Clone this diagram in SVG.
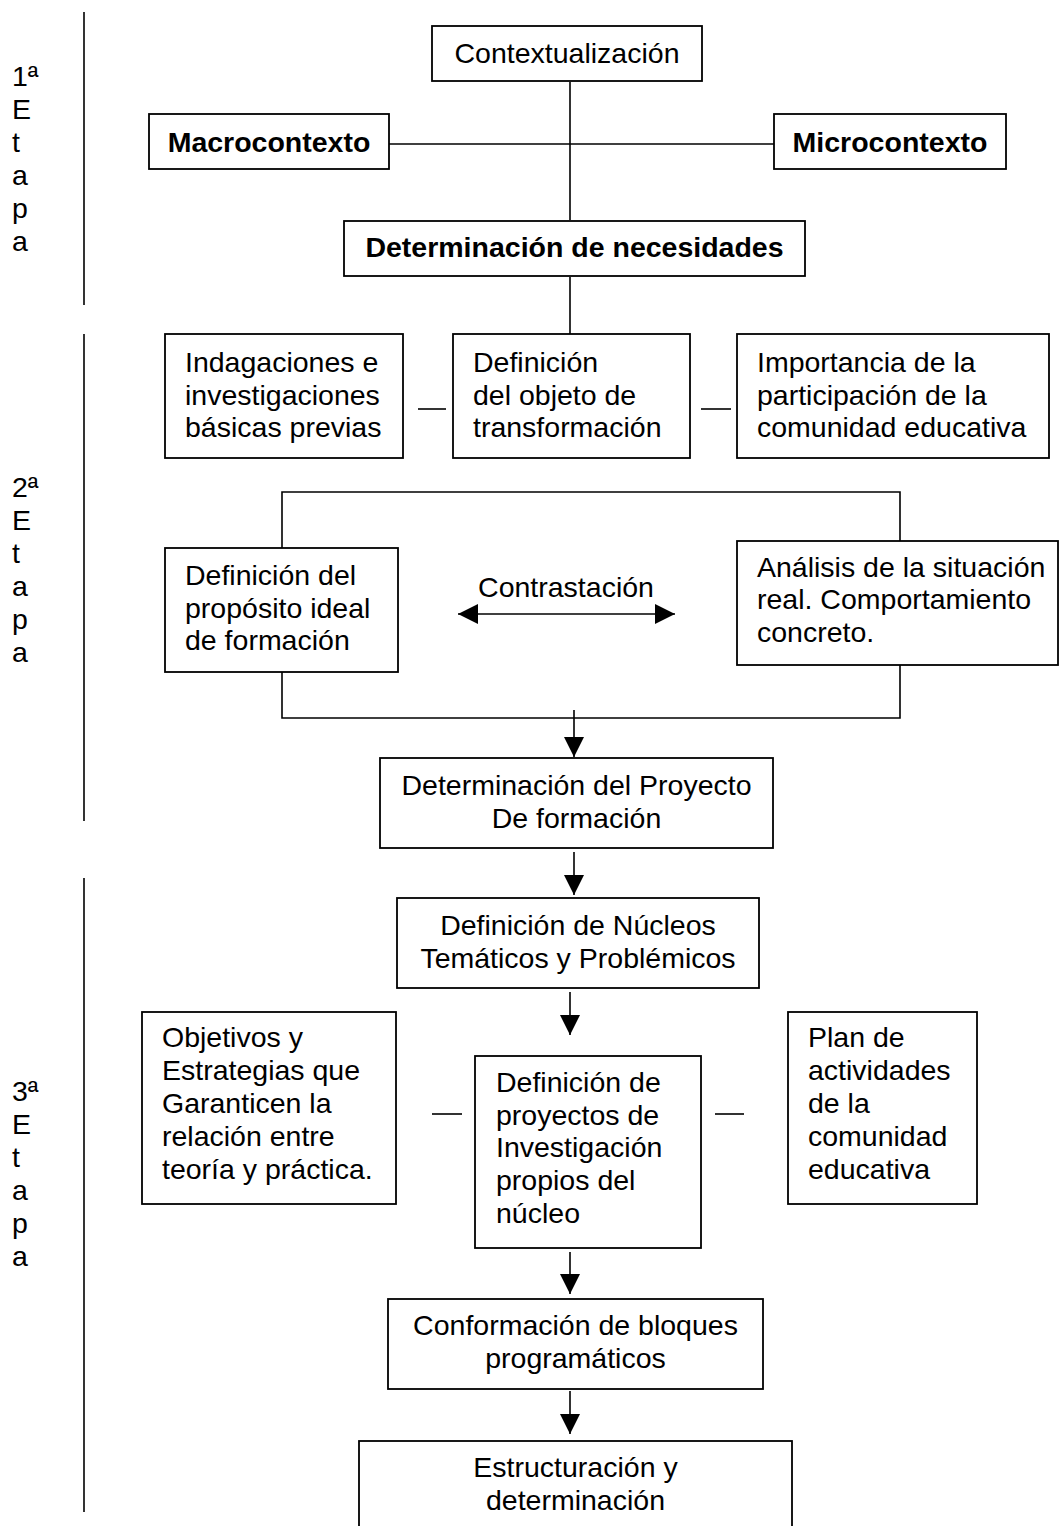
<svg xmlns="http://www.w3.org/2000/svg" width="1059" height="1526" viewBox="0 0 1059 1526">
<style>
  text { font-family: "Liberation Sans", Arial, sans-serif; font-size: 28.5px; fill: #000; }
  .b { font-weight: bold; }
  .c { text-anchor: middle; }
  rect { fill: #fff; stroke: #000; stroke-width: 1.8; }
  line, polyline { stroke: #000; stroke-width: 1.6; fill: none; }
</style>
<defs>
  <marker id="arr" viewBox="0 0 20 20" refX="20" refY="10" markerWidth="20" markerHeight="20" markerUnits="userSpaceOnUse" orient="auto-start-reverse">
    <path d="M0,0 L20,10 L0,20 z" fill="#000"/>
  </marker>
</defs>

<g id="stages">
  <line x1="84" y1="12" x2="84" y2="305"/>
  <line x1="84" y1="334" x2="84" y2="821"/>
  <line x1="84" y1="878" x2="84" y2="1512"/>
  <text x="12" y="86">1ª</text>
  <text x="12" y="119">E</text>
  <text x="12" y="152">t</text>
  <text x="12" y="185">a</text>
  <text x="12" y="218">p</text>
  <text x="12" y="251">a</text>
  <text x="12" y="497">2ª</text>
  <text x="12" y="530">E</text>
  <text x="12" y="563">t</text>
  <text x="12" y="596">a</text>
  <text x="12" y="629">p</text>
  <text x="12" y="662">a</text>
  <text x="12" y="1101">3ª</text>
  <text x="12" y="1134">E</text>
  <text x="12" y="1167">t</text>
  <text x="12" y="1200">a</text>
  <text x="12" y="1233">p</text>
  <text x="12" y="1266">a</text>
</g>

<g id="connectors">
  <line x1="570" y1="82" x2="570" y2="220"/>
  <line x1="389" y1="144" x2="774" y2="144"/>
  <line x1="570" y1="277" x2="570" y2="334"/>
  <line x1="418" y1="409" x2="446" y2="409"/>
  <line x1="701" y1="409" x2="731" y2="409"/>
  <polyline points="282,548 282,492 900,492 900,548"/>
  <polyline points="282,672 282,718 900,718 900,665"/>
  <line x1="458" y1="614" x2="675" y2="614" marker-start="url(#arr)" marker-end="url(#arr)"/>
  <line x1="574" y1="710" x2="574" y2="757" marker-end="url(#arr)"/>
  <line x1="574" y1="852" x2="574" y2="895" marker-end="url(#arr)"/>
  <line x1="570" y1="992" x2="570" y2="1035" marker-end="url(#arr)"/>
  <line x1="432" y1="1114" x2="462" y2="1114"/>
  <line x1="715" y1="1114" x2="744" y2="1114"/>
  <line x1="570" y1="1252" x2="570" y2="1294" marker-end="url(#arr)"/>
  <line x1="570" y1="1391" x2="570" y2="1434" marker-end="url(#arr)"/>
</g>

<g id="contextualizacion">
  <rect x="432" y="26" width="270" height="55"/>
  <text class="c" x="567" y="63">Contextualización</text>
</g>
<g id="macrocontexto">
  <rect x="149" y="114" width="240" height="55"/>
  <text class="b c" x="269" y="152">Macrocontexto</text>
</g>
<g id="microcontexto">
  <rect x="774" y="114" width="232" height="55"/>
  <text class="b c" x="890" y="152">Microcontexto</text>
</g>
<g id="necesidades">
  <rect x="344" y="221" width="461" height="55"/>
  <text class="b c" x="574.5" y="257">Determinación de necesidades</text>
</g>

<g id="indagaciones">
  <rect x="165" y="334" width="238" height="124"/>
  <text x="185" y="372">Indagaciones e</text>
  <text x="185" y="405">investigaciones</text>
  <text x="185" y="437">básicas previas</text>
</g>
<g id="objeto">
  <rect x="453" y="334" width="237" height="124"/>
  <text x="473" y="372">Definición</text>
  <text x="473" y="405">del objeto de</text>
  <text x="473" y="437">transformación</text>
</g>
<g id="importancia">
  <rect x="737" y="334" width="312" height="124"/>
  <text x="757" y="372">Importancia de la</text>
  <text x="757" y="405">participación de la</text>
  <text x="757" y="437">comunidad educativa</text>
</g>

<g id="proposito">
  <rect x="165" y="548" width="233" height="124"/>
  <text x="185" y="585">Definición del</text>
  <text x="185" y="618">propósito ideal</text>
  <text x="185" y="650">de formación</text>
</g>
<g id="contrastacion">
  <text class="c" x="566" y="597">Contrastación</text>
</g>
<g id="analisis">
  <rect x="737" y="541" width="321" height="124"/>
  <text x="757" y="577">Análisis de la situación</text>
  <text x="757" y="609">real. Comportamiento</text>
  <text x="757" y="642">concreto.</text>
</g>

<g id="proyecto">
  <rect x="380" y="758" width="393" height="90"/>
  <text class="c" x="576.5" y="795">Determinación del Proyecto</text>
  <text class="c" x="576.5" y="828">De formación</text>
</g>
<g id="nucleos">
  <rect x="397" y="898" width="362" height="90"/>
  <text class="c" x="578" y="935">Definición de Núcleos</text>
  <text class="c" x="578" y="968">Temáticos y Problémicos</text>
</g>

<g id="objetivos">
  <rect x="142" y="1012" width="254" height="192"/>
  <text x="162" y="1047">Objetivos y</text>
  <text x="162" y="1080">Estrategias que</text>
  <text x="162" y="1113">Garanticen la</text>
  <text x="162" y="1146">relación entre</text>
  <text x="162" y="1179">teoría y práctica.</text>
</g>
<g id="proyectos">
  <rect x="475" y="1056" width="226" height="192"/>
  <text x="496" y="1092">Definición de</text>
  <text x="496" y="1125">proyectos de</text>
  <text x="496" y="1157">Investigación</text>
  <text x="496" y="1190">propios del</text>
  <text x="496" y="1223">núcleo</text>
</g>
<g id="plan">
  <rect x="788" y="1012" width="189" height="192"/>
  <text x="808" y="1047">Plan de</text>
  <text x="808" y="1080">actividades</text>
  <text x="808" y="1113">de la</text>
  <text x="808" y="1146">comunidad</text>
  <text x="808" y="1179">educativa</text>
</g>

<g id="conformacion">
  <rect x="388" y="1299" width="375" height="90"/>
  <text class="c" x="575.5" y="1335">Conformación de bloques</text>
  <text class="c" x="575.5" y="1368">programáticos</text>
</g>
<g id="estructuracion">
  <rect x="359" y="1441" width="433" height="120"/>
  <text class="c" x="575.5" y="1477">Estructuración y</text>
  <text class="c" x="575.5" y="1510">determinación</text>
</g>
</svg>
